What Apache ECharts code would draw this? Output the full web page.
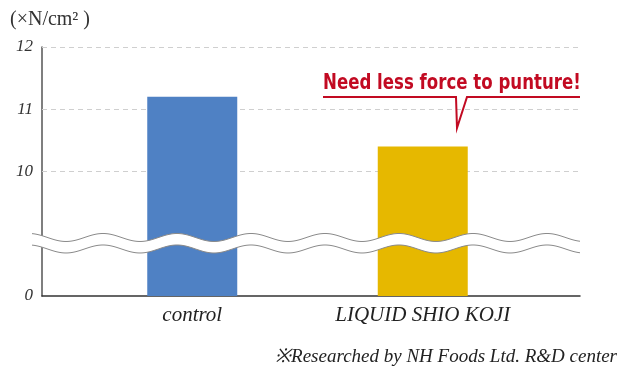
<!DOCTYPE html>
<html>
<head>
<meta charset="utf-8">
<script src="https://cdn.jsdelivr.net/npm/echarts@6/dist/echarts.min.js"></script>
<style>html,body{margin:0;padding:0;background:#fff;}#chart{width:636px;height:373px;}</style>
</head>
<body>
<div id="chart"></div>
<script>
// ---- data ----
var categories = ['control', 'LIQUID SHIO KOJI'];
var values = [11.2, 10.4];
var barColors = ['#4f81c4', '#e6b800'];
var gridValues = [10, 11, 12];
var tickLabels = ['0', '', '10', '11', '12']; // display positions 0..4
var unitLabel = '(×N/cm² )';
var calloutText = 'Need less force to punture!';
var footnote = '※Researched by NH Foods Ltd. R&D center';
var breakOffset = 8; // values above the break are shown shifted down by this

function toDisplay(v) { return v >= 10 ? v - breakOffset : v; }

var chart = echarts.init(document.getElementById('chart'), null, {renderer: 'canvas'});
var serif = "'Liberation Serif', 'Times New Roman', serif";

var option = {
  animation: false,
  backgroundColor: '#fff',
  grid: [
    {left: 42, right: 56, top: 47, bottom: 77},
    {left: 77, right: 98, top: 47, bottom: 77}
  ],
  xAxis: [
    {gridIndex: 0, type: 'value', min: 0, max: 1,
     axisLine: {show: true, lineStyle: {color: '#333', width: 1.5}},
     axisTick: {show: false}, axisLabel: {show: false}, splitLine: {show: false}},
    {gridIndex: 1, type: 'category', data: categories,
     axisLine: {show: false}, axisTick: {show: false},
     axisLabel: {margin: 9, color: '#222', fontFamily: serif, fontStyle: 'italic', fontSize: 21}}
  ],
  yAxis: [
    {gridIndex: 0, type: 'value', min: 0, max: 4, interval: 1,
     axisLine: {show: true, lineStyle: {color: '#555', width: 1.5}},
     axisTick: {show: false}, splitLine: {show: false},
     axisLabel: {margin: 9, color: '#333', fontFamily: serif, fontStyle: 'italic', fontSize: 17,
                 padding: [5, 0, 0, 0],
                 formatter: function (v) { return tickLabels[Math.round(v)]; }}},
    {gridIndex: 1, type: 'value', min: 0, max: 4, interval: 1, show: false}
  ],
  series: [
    {type: 'line', xAxisIndex: 0, yAxisIndex: 0, data: [], z: 1,
     markLine: {silent: true, z: 1, symbol: 'none', label: {show: false},
       lineStyle: {color: '#cfcfcf', type: [5, 4], width: 1},
       data: gridValues.map(function (v) { return {yAxis: toDisplay(v)}; })}},
    {type: 'bar', xAxisIndex: 1, yAxisIndex: 1, barWidth: 90, z: 10,
     data: values.map(function (v, i) { return {value: toDisplay(v), itemStyle: {color: barColors[i]}}; })}
  ]
};
chart.setOption(option);

// ---- decorations: axis break band, callout, texts ----
var x0 = 32, x1 = 580;
var yTop = chart.convertToPixel({yAxisIndex: 0}, 0.94);
var yBot = yTop + 11.5;
var amp = 4, period = 74, crest = 103;
function wave(yc) {
  var pts = [];
  for (var x = x0; x <= x1; x += 2) {
    pts.push([x, yc - amp * Math.cos((x - crest) / period * 2 * Math.PI)]);
  }
  return pts;
}
var up = wave(yTop), lo = wave(yBot);
var band = up.concat(lo.slice().reverse());

var callY = 97;
var red = '#c20a22';
var graphics = [
  {type: 'polygon', z: 100, shape: {points: band}, style: {fill: '#fff'}},
  {type: 'polyline', z: 101, shape: {points: up}, style: {stroke: '#8a8a8a', lineWidth: 1, fill: null}},
  {type: 'polyline', z: 101, shape: {points: lo}, style: {stroke: '#8a8a8a', lineWidth: 1, fill: null}},
  {type: 'text', z: 101, x: 10, y: 20,
   style: {text: unitLabel, fill: '#333', font: '20px ' + serif, textVerticalAlign: 'middle'}},
  {type: 'text', z: 101, x: 617, y: 357,
   style: {text: footnote, fill: '#222', font: 'italic 19px ' + serif, textAlign: 'right', textVerticalAlign: 'middle'}},
  {type: 'text', z: 101, x: 323, y: 94, scaleX: 0.755, scaleY: 1.0,
   style: {text: calloutText, fill: red, font: "bold 22px 'DejaVu Sans', sans-serif",
           textAlign: 'left', textVerticalAlign: 'bottom'}},
  {type: 'polyline', z: 101, shape: {points: [[323, callY], [456, callY], [457, 128], [467, callY], [580, callY]]},
   style: {stroke: red, lineWidth: 2, fill: null}}
];
chart.setOption({graphic: graphics});
</script>
</body>
</html>
